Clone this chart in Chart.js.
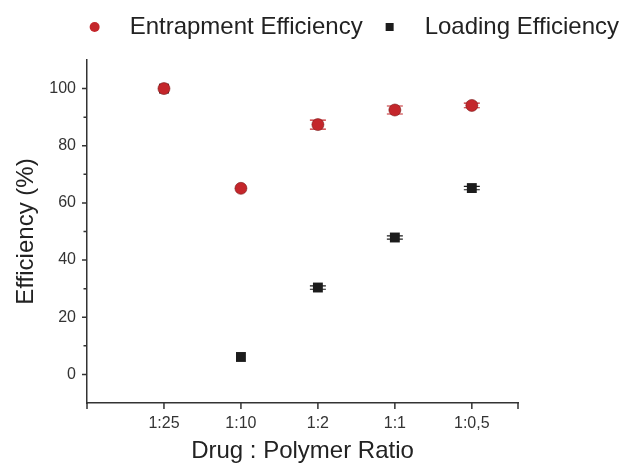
<!DOCTYPE html>
<html>
<head>
<meta charset="utf-8">
<script src="https://cdn.jsdelivr.net/npm/chart.js@4.4.1/dist/chart.umd.min.js"></script>
<style>
	html, body { margin: 0; padding: 0; background: #ffffff; }
	#box { width: 622px; height: 463px; }
</style>
</head>
<body>
<div id="box"><canvas id="chart"></canvas></div>
<script>
// ----------------------------------------------------------------------
const ratio_labels = ["1:25", "1:10", "1:2", "1:1", "1:0,5"]
const ratio_pos = [1, 2, 3, 4, 5]

const entrap_eff = [100, 65.1, 87.4, 92.5, 94.1]
const entrap_err = [0, 0, 1.6, 1.4, 0.8]

const loading_eff = [100, 6.1, 30.4, 47.9, 65.2]
const loading_err = [0, 0, 0.6, 0.6, 0.6]

const y_ticks = [0, 20, 40, 60, 80, 100]
const y_minor = [10, 30, 50, 70, 90]

const font_name = "'Liberation Sans', Arial, sans-serif"
const red = '#c4262b'
const black = '#1c1c1c'
const axis_col = '#333333'

// ----------------------------------------------------------------------
function to_points(values)
{
	var pts = []
	for (var it = 0; it < values.length; it += 1)
		{
		pts.push({x: ratio_pos[it], y: values[it]})
		}
	return pts
}

// error bars, axis tick marks, legend
const extras = {
	id: 'extras',
	beforeDatasetsDraw(chart)
	{
		const ctx = chart.ctx
		const xs = chart.scales.x
		const ys = chart.scales.y
		const sets = [[entrap_eff, entrap_err, red], [loading_eff, loading_err, black]]
		ctx.save()
		ctx.lineWidth = 1.2
		for (const [vals, errs, col] of sets)
			{
			ctx.strokeStyle = col
			for (var it = 0; it < vals.length; it += 1)
				{
				if (errs[it] <= 0) continue
				const px = xs.getPixelForValue(ratio_pos[it])
				const top = ys.getPixelForValue(vals[it] + errs[it])
				const bot = ys.getPixelForValue(vals[it] - errs[it])
				ctx.beginPath()
				ctx.moveTo(px, top); ctx.lineTo(px, bot)
				ctx.moveTo(px - 8, top); ctx.lineTo(px + 8, top)
				ctx.moveTo(px - 8, bot); ctx.lineTo(px + 8, bot)
				ctx.stroke()
				}
			}
		ctx.restore()
	},
	afterDraw(chart)
	{
		const ctx = chart.ctx
		const xs = chart.scales.x
		const ys = chart.scales.y
		ctx.save()
		ctx.strokeStyle = axis_col
		ctx.lineWidth = 1.5
		ctx.beginPath()
		for (const v of y_ticks)
			{
			const py = ys.getPixelForValue(v)
			ctx.moveTo(ys.right - 5, py); ctx.lineTo(ys.right, py)
			}
		for (const v of y_minor)
			{
			const py = ys.getPixelForValue(v)
			ctx.moveTo(ys.right - 3.5, py); ctx.lineTo(ys.right, py)
			}
		const xt = [xs.min].concat(ratio_pos, [xs.max])
		for (const v of xt)
			{
			const px = xs.getPixelForValue(v)
			ctx.moveTo(px, xs.top); ctx.lineTo(px, xs.top + 6)
			}
		ctx.stroke()

		// legend, right aligned across the top
		ctx.font = "24px " + font_name
		ctx.textBaseline = 'middle'
		const ly = 27
		const gap_text = 35
		const gap_item = 27
		var x_end = 619
		const items = chart.data.datasets.slice().reverse()
		for (const ds of items)
			{
			const tw = ctx.measureText(ds.label).width
			const tx = x_end - tw
			ctx.fillStyle = '#222222'
			ctx.fillText(ds.label, tx, ly)
			const mx = tx - gap_text
			ctx.fillStyle = ds.backgroundColor
			ctx.beginPath()
			if (ds.pointStyle === 'circle')
				{
				ctx.arc(mx, ly, 5, 0, Math.PI * 2)
				}
			else
				{
				ctx.rect(mx - 4, ly - 4, 8, 8)
				}
			ctx.fill()
			x_end = mx - gap_item
			}
		ctx.restore()
	}
}

// ----------------------------------------------------------------------
const graph_data = {
	datasets: [
		{ label: "Entrapment Efficiency", data: to_points(entrap_eff),
			backgroundColor: red, borderColor: '#7a1a1a', borderWidth: 0.6,
			pointStyle: 'circle', pointRadius: 6, pointHoverRadius: 6 },
		{ label: "Loading Efficiency", data: to_points(loading_eff),
			backgroundColor: black, borderColor: black, borderWidth: 0,
			pointStyle: 'rect', pointRadius: 7, pointHoverRadius: 7 }
		]
	}

const options = {
	responsive: true,
	maintainAspectRatio: false,
	animation: false,
	layout: { padding: { left: 0, right: 104, top: 60, bottom: 0 } },
	plugins: {
		tooltip: { enabled: false },
		legend: { display: false }
		},
	scales: {
		x: {
			type: 'linear',
			min: 0,
			max: 5.6,
			afterBuildTicks(scale) { scale.ticks = ratio_pos.map(v => ({value: v})) },
			afterFit(scale) { scale.height = 60 },
			grid: { display: false },
			border: { display: true, color: axis_col, width: 1.5 },
			ticks: {
				padding: 3,
				color: '#333333',
				maxRotation: 0,
				font: { family: font_name, size: 16 },
				callback: (v) => ratio_labels[ratio_pos.indexOf(v)]
				},
			title: {
				display: true,
				text: "Drug : Polymer Ratio",
				color: '#222222',
				padding: 0,
				font: { family: font_name, size: 24, lineHeight: 1 }
				}
			},
		y: {
			min: -10,
			max: 110,
			afterBuildTicks(scale) { scale.ticks = y_ticks.map(v => ({value: v})) },
			afterFit(scale) { scale.width = 87 },
			grid: { display: false },
			border: { display: true, color: axis_col, width: 1.5 },
			ticks: {
				padding: 3,
				color: '#333333',
				font: { family: font_name, size: 16 }
				},
			title: {
				display: true,
				text: "Efficiency (%)",
				color: '#222222',
				padding: { top: 12, bottom: 0 },
				font: { family: font_name, size: 24 }
				}
			}
		}
	}

const chart = new Chart(document.getElementById("chart"), {
	type: 'scatter',
	data: graph_data,
	options: options,
	plugins: [extras]
	})
</script>
</body>
</html>
